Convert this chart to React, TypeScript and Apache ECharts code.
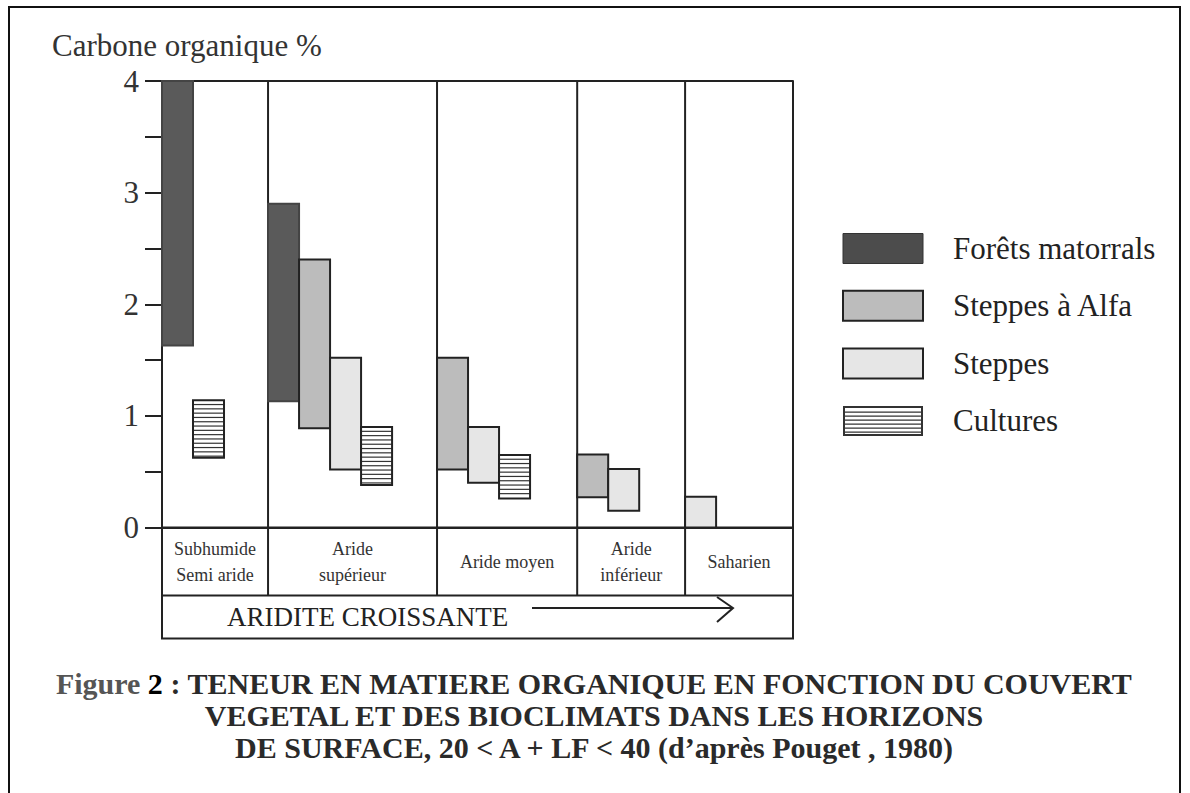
import React, { useEffect, useRef } from "react";
import * as echarts from "echarts";

// ---------- data ----------
const categories = ["Subhumide\nSemi aride", "Aride\nsupérieur", "Aride moyen", "Aride\ninférieur", "Saharien"];
// relative width of each bioclimate column, in bar-width units
const columnWidths = [3.42, 5.45, 4.52, 3.48, 3.48];

const seriesNames = ["Forêts matorrals", "Steppes à Alfa", "Steppes", "Cultures"];
// organic carbon % range (low / high) per bioclimate; null = absent
const foretsLow = [1.63, 1.13, null, null, null];
const foretsHigh = [4.0, 2.9, null, null, null];
const alfaLow = [null, 0.89, 0.52, 0.27, null];
const alfaHigh = [null, 2.4, 1.52, 0.655, null];
const steppesLow = [null, 0.52, 0.4, 0.15, 0];
const steppesHigh = [null, 1.52, 0.9, 0.525, 0.275];
const culturesLow = [0.625, 0.38, 0.26, null, null];
const culturesHigh = [1.14, 0.9, 0.65, null, null];

const yMin = 0;
const yMax = 4;
const yInterval = 1;

const titleText = "Carbone organique %";
const arrowText = "ARIDITE CROISSANTE";
const captionLines = [
  "TENEUR EN MATIERE ORGANIQUE EN FONCTION DU COUVERT",
  "VEGETAL ET DES BIOCLIMATS DANS LES HORIZONS",
  "DE SURFACE, 20 < A + LF < 40 (d\u2019après Pouget , 1980)",
];

// ---------- styles ----------
const FONT = "'Liberation Serif', 'Times New Roman', 'DejaVu Serif', serif";
const INK = "#222";
const fills = ["#5a5a5a", "#bcbcbc", "#e6e6e6", "#ffffff"];

const GRID = { left: 162, top: 81, width: 631, height: 446.5 };
const CAT_BOX_H = 68;
const ARROW_BOX_H = 43;

export default function App() {
  const ref = useRef<HTMLDivElement>(null);

  useEffect(() => {
    document.body.style.margin = "0";
    const chart = echarts.init(ref.current!, null, { renderer: "svg" });

    const colStarts: number[] = [];
    let acc = 0;
    columnWidths.forEach((w) => {
      colStarts.push(acc);
      acc += w;
    });
    const totalUnits = acc;

    const lows = [foretsLow, alfaLow, steppesLow, culturesLow];
    const highs = [foretsHigh, alfaHigh, steppesHigh, culturesHigh];

    // build data [col, slot, low, high]; slot = order of present bars within column
    const seriesData: number[][][] = lows.map(() => []);
    categories.forEach((_, c) => {
      let slot = 0;
      lows.forEach((lowArr, s) => {
        const lo = lowArr[c];
        const hi = highs[s][c];
        if (lo != null && hi != null) {
          seriesData[s].push([c, slot, lo, hi]);
          slot++;
        }
      });
    });

    const barRender = (s: number) => (params: any, api: any) => {
      const col = api.value(0);
      const slot = api.value(1);
      const lo = api.value(2);
      const hi = api.value(3);
      const x0 = colStarts[col] + slot;
      const tl = api.coord([x0, hi]);
      const br = api.coord([x0 + 1, lo]);
      const shape = { x: tl[0], y: tl[1], width: br[0] - tl[0], height: br[1] - tl[1] };
      if (s === 3) {
        const children: any[] = [
          { type: "rect", shape, style: { fill: "#fff", stroke: null } },
        ];
        const step = 4.3;
        for (let y = shape.y + step; y < shape.y + shape.height - 1; y += step) {
          children.push({
            type: "line",
            shape: { x1: shape.x, y1: y, x2: shape.x + shape.width, y2: y },
            style: { stroke: "#333", lineWidth: 1.2 },
          });
        }
        children.push({ type: "rect", shape, style: { fill: null, stroke: INK, lineWidth: 2 } });
        return { type: "group", children };
      }
      return {
        type: "rect",
        shape,
        style: { fill: fills[s], stroke: s === 0 ? "#444" : INK, lineWidth: 2 },
      };
    };

    const zeroY = GRID.top + GRID.height;

    const catRender = (params: any, api: any) => {
      const col = api.value(0);
      const xs = colStarts[col];
      const xe = xs + columnWidths[col];
      const pTop = api.coord([xe, yMax]);
      const pS = api.coord([xs, 0]);
      const pE = api.coord([xe, 0]);
      return {
        type: "group",
        children: [
          {
            type: "line",
            shape: { x1: pTop[0], y1: pTop[1], x2: pTop[0], y2: pE[1] + CAT_BOX_H },
            style: { stroke: INK, lineWidth: 2 },
          },
          {
            type: "text",
            x: (pS[0] + pE[0]) / 2,
            y: pS[1] + CAT_BOX_H / 2,
            style: {
              text: categories[col],
              fontFamily: FONT,
              fontSize: 18,
              lineHeight: 26,
              fill: "#333",
              align: "center",
              verticalAlign: "middle",
            },
          },
        ],
      };
    };

    const culturesIcon =
      "path://M0 0H80V30H0Z M2 2V28H78V2Z" +
      [5.5, 9.5, 13.5, 17.5, 21.5, 25.5].map((y) => `M2 ${y}H78V${y + 1.4}H2Z`).join("");

    const option: any = {
      animation: false,
      backgroundColor: "#fff",
      grid: { left: GRID.left, top: GRID.top, width: GRID.width, height: GRID.height },
      xAxis: [
        {
          type: "value",
          min: 0,
          max: totalUnits,
          position: "bottom",
          axisLine: { show: true, onZero: false, lineStyle: { color: INK, width: 2 } },
          axisTick: { show: false },
          axisLabel: { show: false },
          splitLine: { show: false },
        },
        {
          type: "value",
          min: 0,
          max: totalUnits,
          position: "top",
          axisLine: { show: true, onZero: false, lineStyle: { color: INK, width: 2 } },
          axisTick: { show: false },
          axisLabel: { show: false },
          splitLine: { show: false },
        },
      ],
      yAxis: {
        type: "value",
        min: yMin,
        max: yMax,
        interval: yInterval,
        axisLine: { show: true, lineStyle: { color: INK, width: 2 } },
        axisTick: { show: true, length: 17, lineStyle: { color: INK, width: 2 } },
        minorTick: { show: true, splitNumber: 2, length: 17, lineStyle: { color: INK, width: 2 } },
        axisLabel: { fontFamily: FONT, fontSize: 31, color: "#333", margin: 23 },
        splitLine: { show: false },
        minorSplitLine: { show: false },
      },
      legend: {
        orient: "vertical",
        left: 837,
        top: 228,
        itemWidth: 80,
        itemHeight: 30,
        itemGap: 25.8,
        selectedMode: false,
        textStyle: { fontFamily: FONT, fontSize: 31, color: "#222", lineHeight: 30, padding: [0, 0, 0, 25] },
        data: [
          { name: seriesNames[0], icon: "rect", itemStyle: { color: "#4c4c4c", borderColor: "#333", borderWidth: 1 } },
          { name: seriesNames[1], icon: "rect", itemStyle: { color: fills[1], borderColor: INK, borderWidth: 2 } },
          { name: seriesNames[2], icon: "rect", itemStyle: { color: fills[2], borderColor: INK, borderWidth: 2 } },
          { name: seriesNames[3], icon: culturesIcon, itemStyle: { color: "#333", borderWidth: 0 } },
        ],
      },
      series: [
        ...seriesNames.map((name, s) => ({
          type: "custom",
          name,
          renderItem: barRender(s),
          itemStyle: { color: fills[s] },
          data: seriesData[s],
          z: 3,
        })),
        {
          type: "custom",
          name: "bioclimats",
          renderItem: catRender,
          data: categories.map((_, i) => [i, 0]),
          z: 2,
        },
      ],
      graphic: [
        {
          type: "rect",
          shape: { x: 9, y: 7, width: 1171, height: 810 },
          style: { fill: null, stroke: "#111", lineWidth: 2 },
          silent: true,
        },
        {
          type: "text",
          x: 52,
          y: 45,
          style: { text: titleText, fontFamily: FONT, fontSize: 31, fill: "#333", verticalAlign: "middle" },
        },
        {
          type: "rect",
          shape: { x: GRID.left, y: zeroY, width: GRID.width, height: CAT_BOX_H + ARROW_BOX_H },
          style: { fill: null, stroke: INK, lineWidth: 2 },
        },
        {
          type: "line",
          shape: { x1: GRID.left, y1: zeroY + CAT_BOX_H, x2: GRID.left + GRID.width, y2: zeroY + CAT_BOX_H },
          style: { stroke: INK, lineWidth: 2 },
        },
        {
          type: "text",
          x: 227,
          y: zeroY + CAT_BOX_H + ARROW_BOX_H / 2,
          style: { text: arrowText, fontFamily: FONT, fontSize: 27, fill: "#222", verticalAlign: "middle" },
        },
        {
          type: "line",
          shape: { x1: 532, y1: 608, x2: 732, y2: 608 },
          style: { stroke: INK, lineWidth: 2 },
        },
        {
          type: "polyline",
          shape: { points: [[717, 597], [733, 608], [717, 622]] },
          style: { stroke: INK, lineWidth: 2, fill: null },
        },
        {
          type: "text",
          x: 594,
          y: 683,
          style: {
            text: "{f|Figure }{n|2}{r| : " + captionLines[0] + "}",
            align: "center",
            verticalAlign: "middle",
            fontFamily: FONT,
            fontSize: 30,
            fontWeight: "bold",
            rich: {
              f: { fontFamily: FONT, fontSize: 30, fontWeight: "bold", fill: "#555" },
              n: { fontFamily: FONT, fontSize: 30, fontWeight: 900, fill: "#000" },
              r: { fontFamily: FONT, fontSize: 30, fontWeight: "bold", fill: "#2a2a2a" },
            },
          },
        },
        {
          type: "text",
          x: 594,
          y: 715,
          style: {
            text: captionLines[1],
            align: "center",
            verticalAlign: "middle",
            fontFamily: FONT,
            fontSize: 30,
            fontWeight: "bold",
            fill: "#2a2a2a",
          },
        },
        {
          type: "text",
          x: 594,
          y: 747,
          style: {
            text: captionLines[2],
            align: "center",
            verticalAlign: "middle",
            fontFamily: FONT,
            fontSize: 30,
            fontWeight: "bold",
            fill: "#2a2a2a",
          },
        },
      ],
    };

    chart.setOption(option);
    return () => chart.dispose();
  }, []);

  return (
    <div
      ref={ref}
      style={{ position: "absolute", left: 0, top: 0, width: 1190, height: 793, background: "#fff" }}
    />
  );
}
